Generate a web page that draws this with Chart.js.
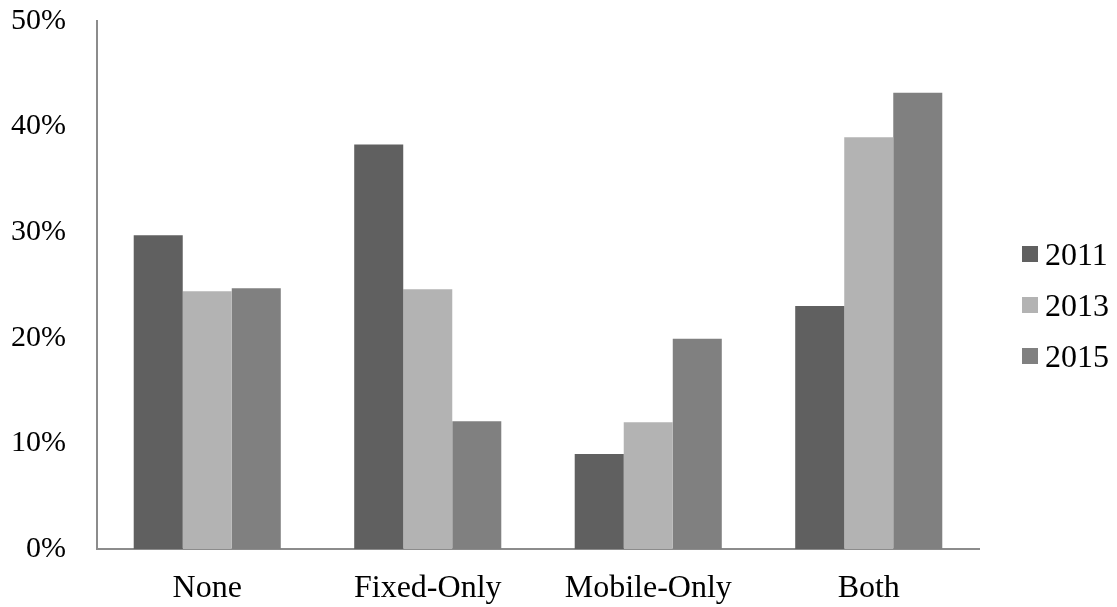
<!DOCTYPE html>
<html>
<head>
<meta charset="utf-8">
<script src="https://cdn.jsdelivr.net/npm/chart.js@4"></script>
<style>
    html, body { margin: 0; padding: 0; background: #fff; }
    #wrap { position: relative; width: 1117px; height: 607px; }
    #legend { position: absolute; left: 1022px; top: 0; font-family: "Liberation Serif", "Times New Roman", serif; font-size: 32px; color: #000; }
    .item { position: absolute; left: 0; width: 100px; height: 30px; display: flex; align-items: center; }
    .box { width: 16px; height: 16px; margin-right: 7px; }
</style>
</head>
<body>
<div id="wrap">
    <canvas id="grafico" width="1117" height="607"></canvas>
    <div id="legend"></div>
</div>
<script>
const categorias = ["None", "Fixed-Only", "Mobile-Only", "Both"];
const anos = ["2011", "2013", "2015"];
const valores2011 = [29.7, 38.3, 9.0, 23.0];
const valores2013 = [24.4, 24.6, 12.0, 39.0];
const valores2015 = [24.7, 12.1, 19.9, 43.2];
const cores = ["#606060", "#b3b3b3", "#808080"];

const fonte = "'Liberation Serif', 'Times New Roman', serif";

document.addEventListener("DOMContentLoaded", () => {
    desenharGrafico();
    montarLegenda();
});

function desenharGrafico() {
    const ctx = document.getElementById("grafico");
    const series = [valores2011, valores2013, valores2015];

    new Chart(ctx, {
        type: "bar",
        data: {
            labels: categorias,
            datasets: anos.map((ano, i) => ({
                label: ano,
                data: series[i],
                backgroundColor: cores[i],
                borderWidth: 0,
                barPercentage: 1,
                categoryPercentage: 0.667
            }))
        },
        options: {
            responsive: false,
            animation: false,
            layout: { padding: { left: 11, right: 138, top: 21, bottom: 2 } },
            plugins: { legend: { display: false }, tooltip: { enabled: false } },
            scales: {
                x: {
                    grid: { display: false, drawTicks: false },
                    border: { color: "#8c8c8c", width: 2 },
                    ticks: { color: "#000", padding: 20, font: { family: fonte, size: 32 } },
                    afterFit: s => { s.height = 56; s.paddingLeft = 0; s.paddingRight = 0; }
                },
                y: {
                    min: 0,
                    max: 50,
                    grid: { display: false, drawTicks: false },
                    border: { color: "#8c8c8c", width: 2 },
                    ticks: {
                        stepSize: 10,
                        color: "#000",
                        padding: 31,
                        font: { family: fonte, size: 30 },
                        callback: v => v + "%"
                    },
                    afterFit: s => { s.width = 86; s.paddingTop = 0; s.paddingBottom = 0; }
                }
            }
        }
    });
}

// legenda em HTML, posicionada a direita do grafico
function montarLegenda() {
    const box = document.getElementById("legend");
    const centros = [254, 305, 356];
    anos.forEach((ano, i) => {
        const item = document.createElement("div");
        item.className = "item";
        item.style.top = (centros[i] - 15) + "px";
        item.innerHTML = '<span class="box" style="background:' + cores[i] + '"></span><span>' + ano + "</span>";
        box.appendChild(item);
    });
}
</script>
</body>
</html>
